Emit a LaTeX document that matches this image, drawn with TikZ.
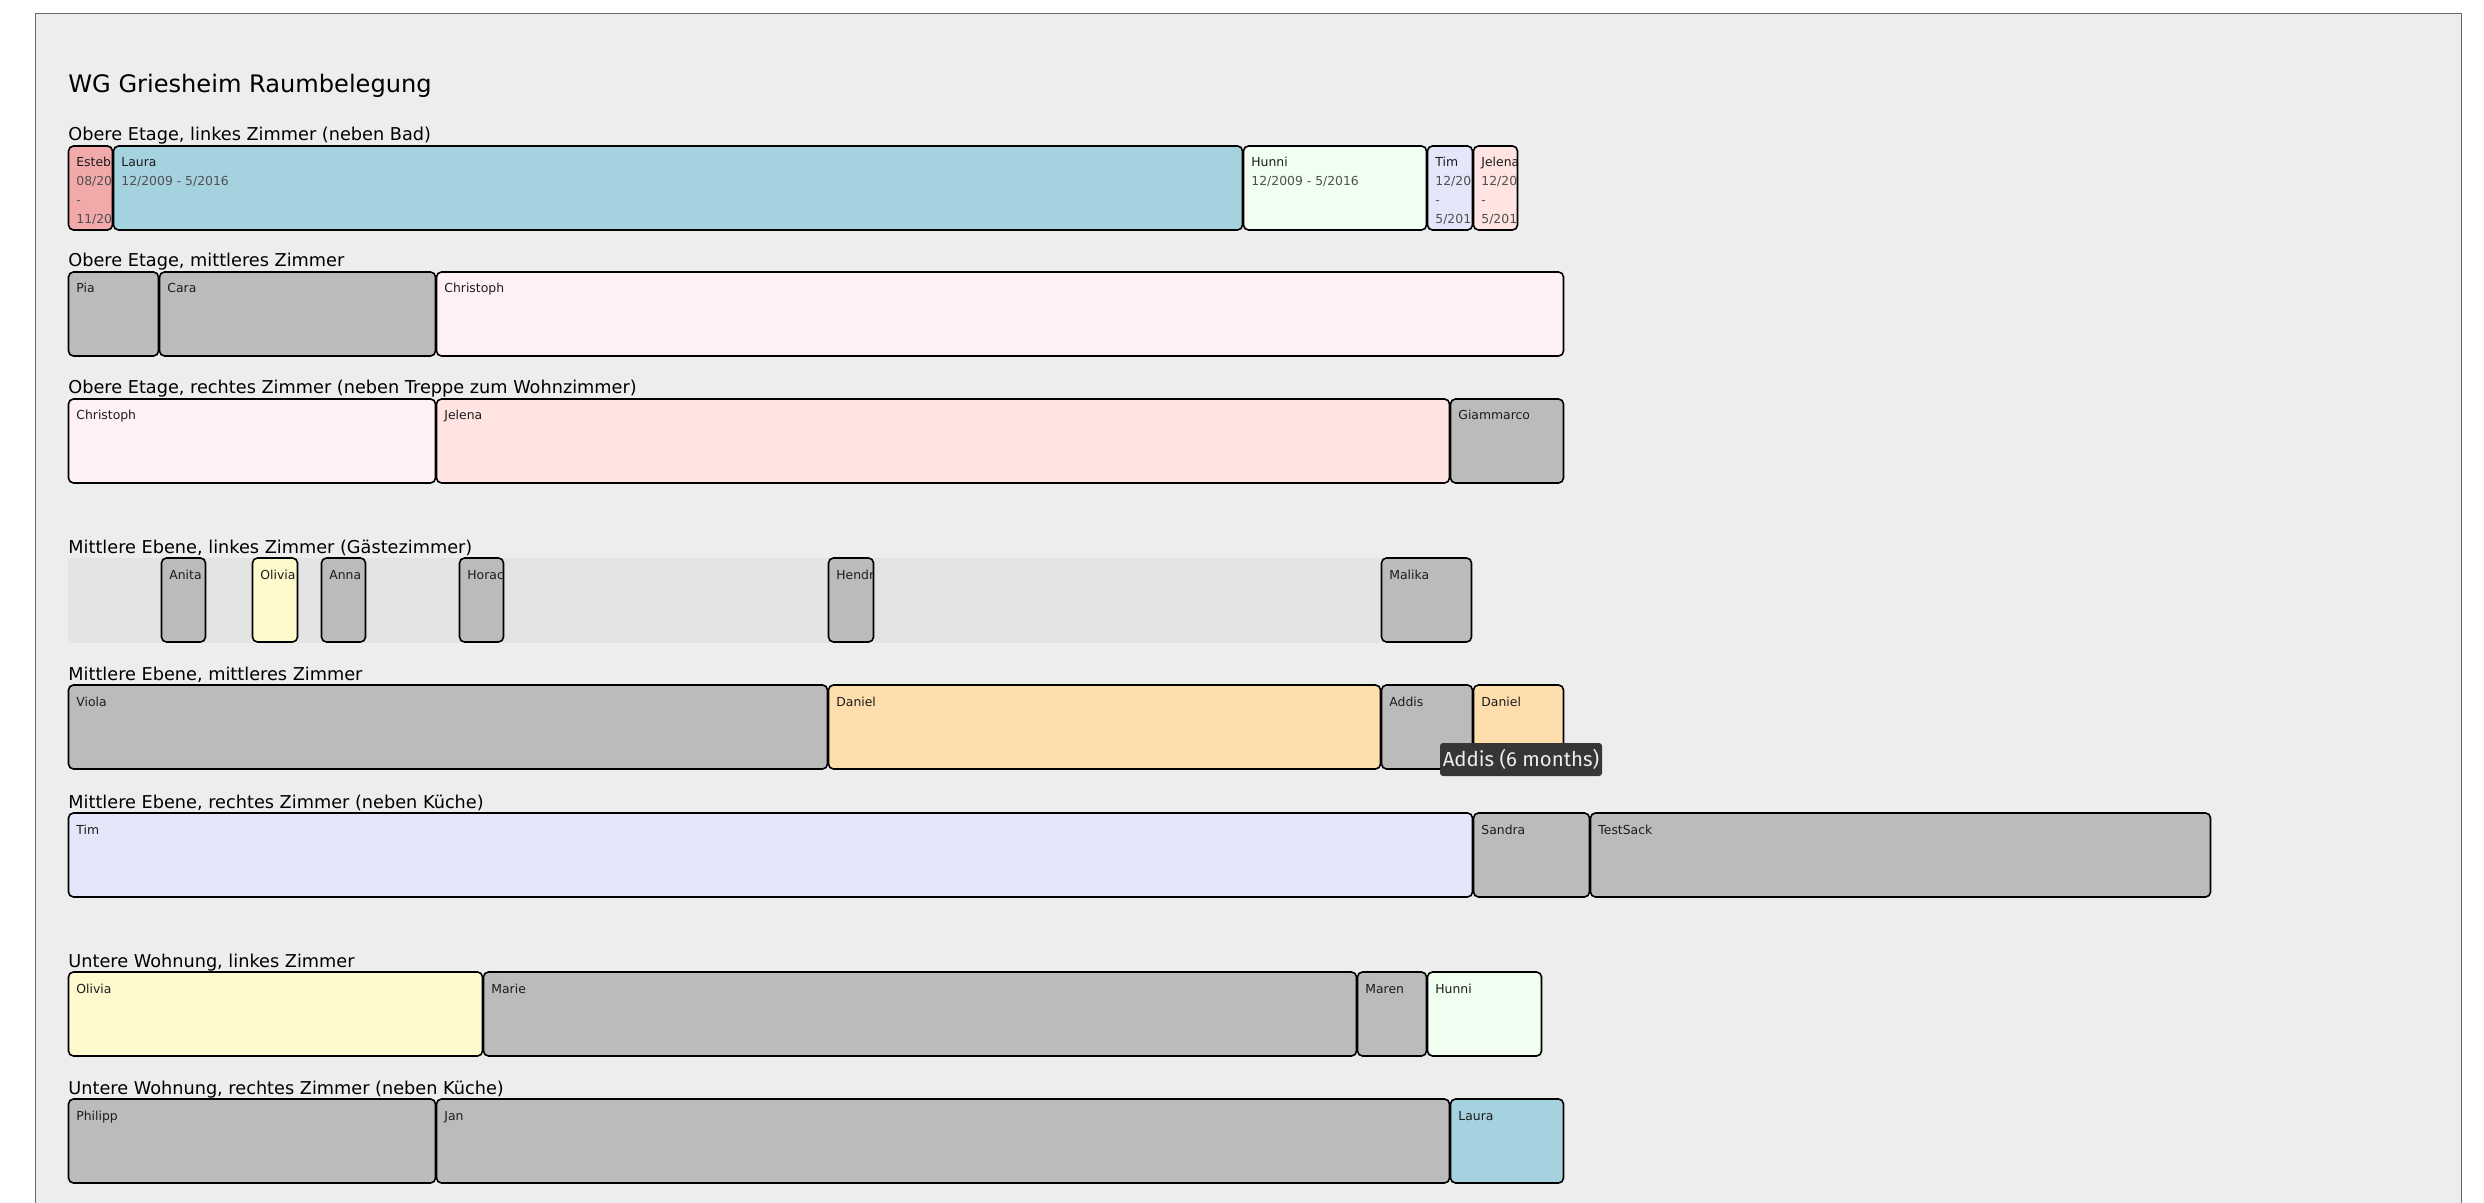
\documentclass[tikz,border=0pt]{standalone}
\usepackage{fontspec}
\setmainfont{DejaVu Sans}
\newfontfamily\tipfont{Fira Sans}
\usepackage{xcolor}
\definecolor{pagebg}{HTML}{EDEDED}
\definecolor{framecol}{HTML}{686868}
\definecolor{bandcol}{HTML}{E4E4E4}
\definecolor{greycol}{HTML}{BBBBBB}
\definecolor{rosecol}{HTML}{F2A9A9}
\definecolor{bluecol}{HTML}{A5D2DF}
\definecolor{dewcol}{HTML}{F0FFF0}
\definecolor{lavcol}{HTML}{E6E6FA}
\definecolor{mistcol}{HTML}{FFE4E1}
\definecolor{blushcol}{HTML}{FFF0F5}
\definecolor{lemoncol}{HTML}{FFFACD}
\definecolor{navajocol}{HTML}{FFDEAD}
\definecolor{namecol}{HTML}{1C1C1C}
\definecolor{datecol}{HTML}{505050}
\definecolor{tipcol}{HTML}{363636}
\tikzset{
  box/.style={draw=black, line width=0.8pt, rounded corners=2.5pt},
  who/.style={anchor=base west, inner sep=0, text=namecol, font=\fontsize{6.2}{9.5}\selectfont},
  room/.style={anchor=base west, inner sep=0, font=\fontsize{8.85}{10}\selectfont},
  tip/.style={fill=tipcol, text=white!93!black, rounded corners=1.5pt, inner sep=0,
    minimum width=81pt, minimum height=16.5pt, font=\tipfont\fontsize{10.2}{12}\selectfont}
}
\newcommand{\booking}[7]{\draw[box, fill=#5] (#2+0.5, #4) rectangle (#3-0.5, #4+84);
    \begin{scope}
    \clip (#2+1.5, #4+1) rectangle (#3-1.5, #4+83);
    \node[who] (#1) at (#2+8, #4+21)
      {\parbox[t]{\dimexpr(#3pt-#2pt-20pt)/2\relax}{\raggedright\hbadness=10000\hfuzz=300pt #6\\\color{datecol}#7}};
    \end{scope}}

\begin{document}
\begin{tikzpicture}[x=0.5pt, y=-0.5pt]
    \useasboundingbox (0,0) rectangle (2484,1203);
    \fill[white] (0,0) rectangle (2484,1203);
    \draw[framecol, fill=pagebg, line width=0.75pt] (35.5,13.5) rectangle (2461.5,1230);
    \node[room, font=\fontsize{12.05}{14}\selectfont] (title) at (68,93) {WG Griesheim Raumbelegung};
    \node[room] (room1) at (68,141) {Obere Etage, linkes Zimmer (neben Bad)};
    \node[room] (room2) at (68,267) {Obere Etage, mittleres Zimmer};
    \node[room] (room3) at (68,394) {Obere Etage, rechtes Zimmer (neben Treppe zum Wohnzimmer)};
    \node[room] (room4) at (68,553) {Mittlere Ebene, linkes Zimmer (Gästezimmer)};
    \node[room] (room5) at (68,680) {Mittlere Ebene, mittleres Zimmer};
    \node[room] (room6) at (68,808) {Mittlere Ebene, rechtes Zimmer (neben Küche)};
    \node[room] (room7) at (68,967) {Untere Wohnung, linkes Zimmer};
    \node[room] (room8) at (68,1094) {Untere Wohnung, rechtes Zimmer (neben Küche)};
    \booking{esteban}{68}{113}{146}{rosecol}{Esteban}{08/2009\\-\\11/2009}
    \booking{laura}{113}{1243}{146}{bluecol}{Laura}{12/2009 - 5/2016}
    \booking{hunni}{1243}{1427}{146}{dewcol}{Hunni}{12/2009 - 5/2016}
    \booking{tim}{1427}{1473}{146}{lavcol}{Tim}{12/2009\\-\\5/2016}
    \booking{jelena}{1473}{1518}{146}{mistcol}{Jelena}{12/2009\\-\\5/2016}
    \booking{pia}{68}{159}{272}{greycol}{Pia}{}
    \booking{cara}{159}{436}{272}{greycol}{Cara}{}
    \booking{christoph}{436}{1564}{272}{blushcol}{Christoph}{}
    \booking{christophb}{68}{436}{399}{blushcol}{Christoph}{}
    \booking{jelenab}{436}{1450}{399}{mistcol}{Jelena}{}
    \booking{giammarco}{1450}{1564}{399}{greycol}{Giammarco}{}
    \fill[bandcol] (68,558) rectangle (1380,643);
    \booking{anita}{161}{206}{558}{greycol}{Anita}{}
    \booking{olivia}{252}{298}{558}{lemoncol}{Olivia}{}
    \booking{anna}{321}{366}{558}{greycol}{Anna}{}
    \booking{horacio}{459}{504}{558}{greycol}{Horacio}{}
    \booking{hendrik}{828}{874}{558}{greycol}{Hendrik}{}
    \booking{malika}{1381}{1472}{558}{greycol}{Malika}{}
    \booking{viola}{68}{828}{685}{greycol}{Viola}{}
    \booking{daniel}{828}{1381}{685}{navajocol}{Daniel}{}
    \booking{addis}{1381}{1473}{685}{greycol}{Addis}{}
    \booking{danielb}{1473}{1564}{685}{navajocol}{Daniel}{}
    \booking{timb}{68}{1473}{813}{lavcol}{Tim}{}
    \booking{sandra}{1473}{1590}{813}{greycol}{Sandra}{}
    \booking{testsack}{1590}{2211}{813}{greycol}{TestSack}{}
    \booking{oliviab}{68}{483}{972}{lemoncol}{Olivia}{}
    \booking{marie}{483}{1357}{972}{greycol}{Marie}{}
    \booking{maren}{1357}{1427}{972}{greycol}{Maren}{}
    \booking{hunnib}{1427}{1542}{972}{dewcol}{Hunni}{}
    \booking{philipp}{68}{436}{1099}{greycol}{Philipp}{}
    \booking{jan}{436}{1450}{1099}{greycol}{Jan}{}
    \booking{laurab}{1450}{1564}{1099}{bluecol}{Laura}{}
    \node[tip] (tip) at (1521,759.5) {Addis (6 months)};
\end{tikzpicture}
\end{document}
